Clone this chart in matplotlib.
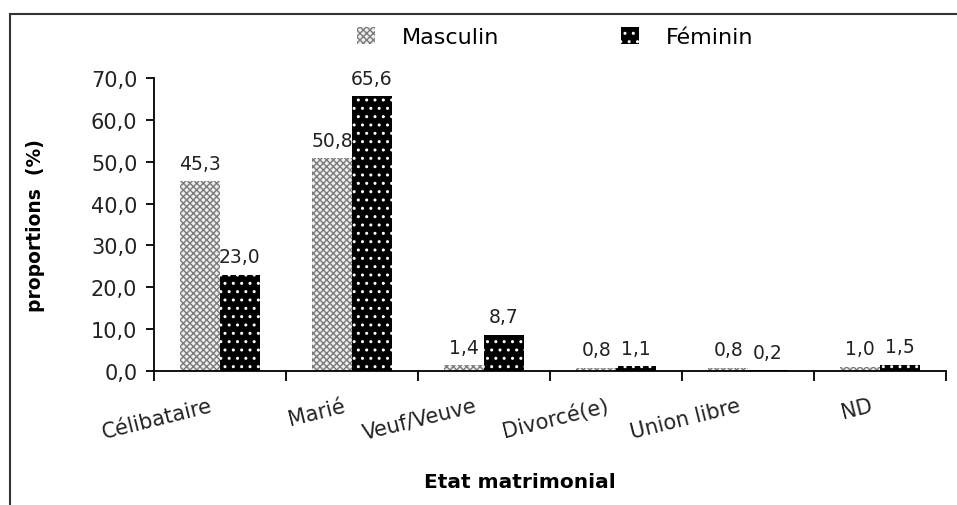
import matplotlib
matplotlib.use("Agg")
import matplotlib.pyplot as plt
import matplotlib.transforms as mtransforms
from matplotlib.patches import Rectangle
import numpy as np

categories = ["Célibataire", "Marié", "Veuf/Veuve", "Divorcé(e)", "Union libre", "ND"]
masculin = [45.3, 50.8, 1.4, 0.8, 0.8, 1.0]
feminin = [23.0, 65.6, 8.7, 1.1, 0.2, 1.5]
yticks = [0, 10, 20, 30, 40, 50, 60, 70]

plt.rcParams['font.family'] = ['DejaVu Sans']
plt.rcParams['hatch.linewidth'] = 1.0

W, H = 957, 506
fig = plt.figure(figsize=(W / 100, H / 100), dpi=100)
ax = fig.add_axes([154 / W, 1 - 372 / H, (946 - 154) / W, (372 - 79) / H])

x = np.arange(len(categories))
bw = 0.30
b1 = ax.bar(x - bw / 2, masculin, bw, facecolor='#eeeeee', edgecolor='#7a7a7a',
            hatch='xxxxx', linewidth=0, label='Masculin')
b2 = ax.bar(x + bw / 2, feminin, bw, facecolor='black', edgecolor='white',
            hatch='..', linewidth=0, label='Féminin')

def fmt(v):
    return f"{v:.1f}".replace('.', ',')

for bars, vals in ((b1, masculin), (b2, feminin)):
    for r, v in zip(bars, vals):
        ax.annotate(fmt(v), (r.get_x() + r.get_width() / 2, v), xytext=(0, 6),
                    textcoords='offset points', ha='center', va='bottom',
                    fontsize=13.5, color='#222222')

ax.set_xlim(-0.5, len(categories) - 0.5)
ax.set_ylim(0, 70)
ax.set_yticks(yticks)
ax.set_yticklabels([fmt(v) for v in yticks], fontsize=15, color='#222222')
ax.set_xticks(np.arange(len(categories) + 1) - 0.5)
ax.set_xticklabels([])
ax.tick_params(axis='x', direction='out', length=7, width=1.3)
ax.tick_params(axis='y', direction='out', length=6, width=1.3, pad=6)

off = mtransforms.ScaledTranslation(-0.10, -0.24, fig.dpi_scale_trans)
for i, c in enumerate(categories):
    ax.text(i, 0, c, transform=mtransforms.blended_transform_factory(ax.transData, ax.transAxes) + off,
            rotation=14, rotation_mode='anchor', ha='right', va='top', fontsize=15,
            color='#222222')

for s in ('top', 'right'):
    ax.spines[s].set_visible(False)
for s in ('left', 'bottom'):
    ax.spines[s].set_linewidth(1.3)

ax.set_ylabel('proportions  (%)', fontsize=13.5, fontweight='bold')
ax.yaxis.set_label_coords(-0.137, 0.5)
fig.text(520 / W, 1 - 483 / H, 'Etat matrimonial', ha='center', va='center',
         fontsize=14.5, fontweight='bold')

fig.legend(handles=[b1, b2], loc='center', bbox_to_anchor=(555 / W, 1 - 38 / H),
           ncol=2, frameon=False, fontsize=16, columnspacing=5.5, handlelength=0.8,
           handleheight=0.8, handletextpad=1.2)

fig.add_artist(Rectangle((10 / W, -0.01), 1.2, 1 - 15 / H + 0.01, transform=fig.transFigure,
                         fill=False, edgecolor='#333333', linewidth=1.5))

fig.savefig('out.png', dpi=100)
